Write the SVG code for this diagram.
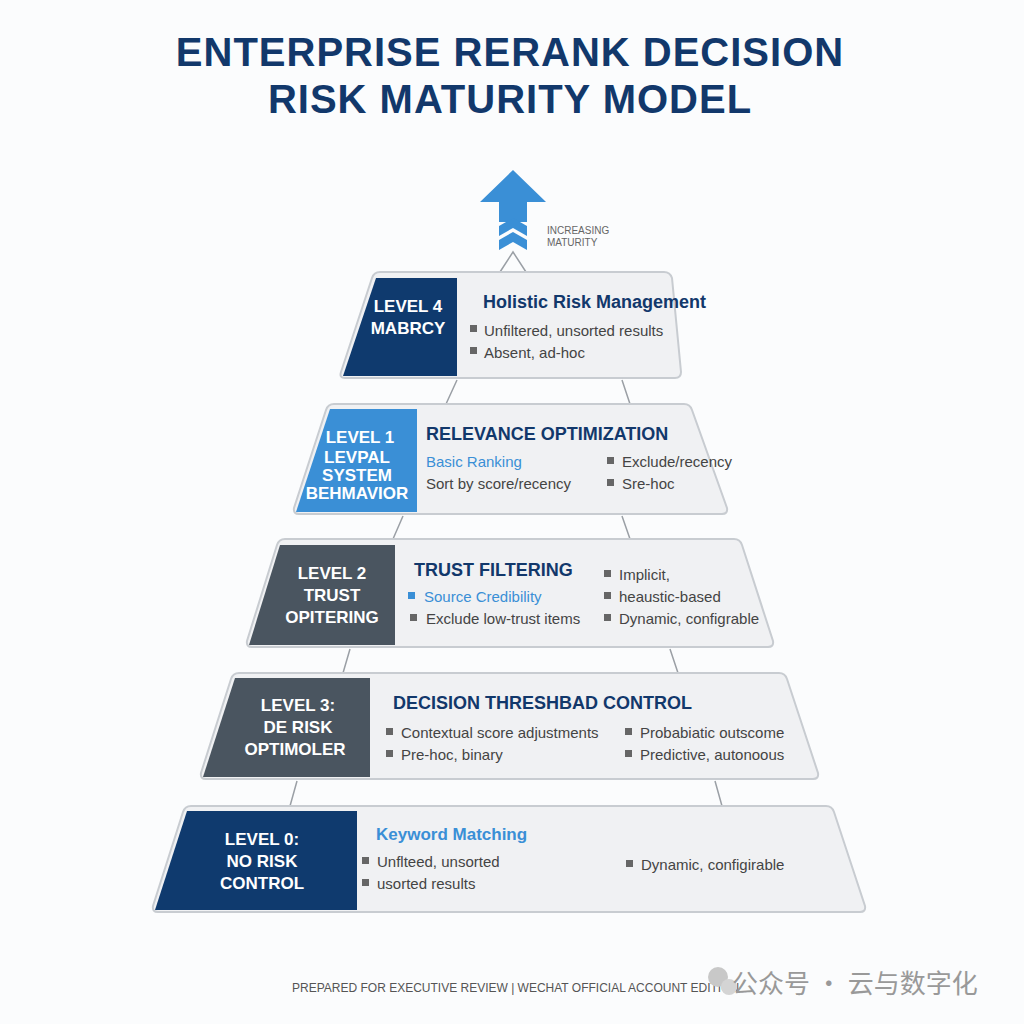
<svg xmlns="http://www.w3.org/2000/svg" width="1024" height="1024" viewBox="0 0 1024 1024">
<style>
.t{font-family:"Liberation Sans",Arial,sans-serif}
.title{font-family:"Liberation Sans",Arial,sans-serif;font-weight:bold;font-size:40px;fill:#12386b;text-anchor:middle;letter-spacing:1px}
.tier{fill:#f0f1f3;stroke:#c8ccd1;stroke-width:2}
.lv{font-family:"Liberation Sans",Arial,sans-serif;font-weight:bold;font-size:17px;fill:#fff;text-anchor:middle}
.hd{font-family:"Liberation Sans",Arial,sans-serif;font-weight:bold;font-size:18px;fill:#12386b}
.bl{font-family:"Liberation Sans",Arial,sans-serif;font-size:15px;fill:#444}
.ac{font-family:"Liberation Sans",Arial,sans-serif;font-size:15px;fill:#3a8fd6}
.sq{fill:#666}
.ln{stroke:#9a9fa5;stroke-width:1.5;fill:none}
</style>
<rect width="1024" height="1024" fill="#fbfcfd"/>
<text class="title" x="510" y="66">ENTERPRISE RERANK DECISION</text>
<text class="title" x="510" y="113">RISK MATURITY MODEL</text>
<g id="arrow">
<polygon points="513,170 546,202 527,202 527,222 499,222 499,202 480,202" fill="#3a8fd6"/>
<polygon points="499,226 513,218 527,226 527,236 513,228 499,236" fill="#3a8fd6"/>
<polygon points="499,240 513,232 527,240 527,250 513,242 499,250" fill="#3a8fd6"/>
<text class="t" x="547" y="234" font-size="10" fill="#666">INCREASING</text>
<text class="t" x="547" y="246" font-size="10" fill="#666">MATURITY</text>
</g>
<g id="connectors">
<path class="ln" d="M500,272 L513,252 L526,272"/>
<path class="ln" d="M457,380 L446,404 M622,380 L630,404"/>
<path class="ln" d="M403,516 L393,539 M622,516 L630,539"/>
<path class="ln" d="M350,649 L343,673 M670,649 L678,673"/>
<path class="ln" d="M297,781 L290,806 M715,781 L722,806"/>
</g>
<g id="level4">
<path class="tier" d="M380,272 L664,272 Q670,272 672,278 L681,372 Q681,378 675,378 L345,378 Q339,378 341,372 L372,278 Q374,272 380,272Z"/>
<path d="M376,278 L457,278 L457,376 L343,376 Z" fill="#0f3a6e"/>
<text class="lv" x="408" y="312">LEVEL 4</text>
<text class="lv" x="408" y="334">MABRCY</text>
<text class="hd" x="483" y="308">Holistic Risk Management</text>
<rect class="sq" x="470" y="325" width="7" height="7"/><text class="bl" x="484" y="336">Unfiltered, unsorted results</text>
<rect class="sq" x="470" y="347" width="7" height="7"/><text class="bl" x="484" y="358">Absent, ad-hoc</text>
</g>
<g id="level1">
<path class="tier" d="M334,404 L684,404 Q690,404 692,410 L727,508 Q728,514 722,514 L299,514 Q293,514 294,508 L326,410 Q328,404 334,404Z"/>
<path d="M330,409 L417,409 L417,512 L296,512 Z" fill="#3a8fd6"/>
<text class="lv" x="360" y="443">LEVEL 1</text>
<text class="lv" x="357" y="463">LEVPAL</text>
<text class="lv" x="357" y="481">SYSTEM</text>
<text class="lv" x="357" y="499">BEHMAVIOR</text>
<text class="hd" x="426" y="440">RELEVANCE OPTIMIZATION</text>
<text class="ac" x="426" y="467">Basic Ranking</text>
<text class="bl" x="426" y="489">Sort by score/recency</text>
<rect class="sq" x="607" y="457" width="7" height="7"/><text class="bl" x="622" y="467">Exclude/recency</text>
<rect class="sq" x="607" y="479" width="7" height="7"/><text class="bl" x="622" y="489">Sre-hoc</text>
</g>
<g id="level2">
<path class="tier" d="M285,539 L734,539 Q740,539 742,545 L773,641 Q774,647 768,647 L252,647 Q246,647 247,641 L277,545 Q279,539 285,539Z"/>
<path d="M280,545 L395,545 L395,645 L249,645 Z" fill="#4a5560"/>
<text class="lv" x="332" y="579">LEVEL 2</text>
<text class="lv" x="332" y="601">TRUST</text>
<text class="lv" x="332" y="623">OPITERING</text>
<text class="hd" x="414" y="576">TRUST FILTERING</text>
<rect class="sq" x="408" y="592" width="7" height="7" fill="#3a8fd6" style="fill:#3a8fd6"/><text class="ac" x="424" y="602">Source Credibility</text>
<rect class="sq" x="410" y="614" width="7" height="7"/><text class="bl" x="426" y="624">Exclude low-trust items</text>
<rect class="sq" x="604" y="570" width="7" height="7"/><text class="bl" x="619" y="580">Implicit,</text>
<rect class="sq" x="604" y="592" width="7" height="7"/><text class="bl" x="619" y="602">heaustic-based</text>
<rect class="sq" x="604" y="614" width="7" height="7"/><text class="bl" x="619" y="624">Dynamic, configrable</text>
</g>
<g id="level3">
<path class="tier" d="M239,673 L779,673 Q785,673 787,679 L818,773 Q819,779 813,779 L206,779 Q200,779 201,773 L231,679 Q233,673 239,673Z"/>
<path d="M235,678 L370,678 L370,777 L203,777 Z" fill="#4a5560"/>
<text class="lv" x="298" y="711">LEVEL 3:</text>
<text class="lv" x="298" y="733">DE RISK</text>
<text class="lv" x="295" y="755">OPTIMOLER</text>
<text class="hd" x="393" y="709">DECISION THRESHBAD CONTROL</text>
<rect class="sq" x="386" y="728" width="7" height="7"/><text class="bl" x="401" y="738">Contextual score adjustments</text>
<rect class="sq" x="386" y="750" width="7" height="7"/><text class="bl" x="401" y="760">Pre-hoc, binary</text>
<rect class="sq" x="625" y="728" width="7" height="7"/><text class="bl" x="640" y="738">Probabiatic outscome</text>
<rect class="sq" x="625" y="750" width="7" height="7"/><text class="bl" x="640" y="760">Predictive, autonoous</text>
</g>
<g id="level0">
<path class="tier" d="M191,806 L826,806 Q832,806 834,812 L865,906 Q866,912 860,912 L158,912 Q152,912 153,906 L183,812 Q185,806 191,806Z"/>
<path d="M187,811 L357,811 L357,910 L155,910 Z" fill="#0f3a6e"/>
<text class="lv" x="262" y="845">LEVEL 0:</text>
<text class="lv" x="262" y="867">NO RISK</text>
<text class="lv" x="262" y="889">CONTROL</text>
<text class="t" x="376" y="840" font-size="17" font-weight="bold" fill="#3a8fd6">Keyword Matching</text>
<rect class="sq" x="362" y="857" width="7" height="7"/><text class="bl" x="377" y="867">Unflteed, unsorted</text>
<rect class="sq" x="362" y="879" width="7" height="7"/><text class="bl" x="377" y="889">usorted results</text>
<rect class="sq" x="626" y="860" width="7" height="7"/><text class="bl" x="641" y="870">Dynamic, configirable</text>
</g>
<g id="footer">
<text class="t" x="292" y="992" font-size="12" fill="#555">PREPARED FOR EXECUTIVE REVIEW | WECHAT OFFICIAL ACCOUNT EDITION</text>
<circle cx="718" cy="977" r="10" fill="#c8c8c8"/><circle cx="729" cy="987" r="8" fill="#d4d4d4"/>
<text x="732" y="993" font-family="'Noto Sans CJK SC',sans-serif" font-size="26" fill="#999">公众号 · 云与数字化</text>
</g>
</svg>
